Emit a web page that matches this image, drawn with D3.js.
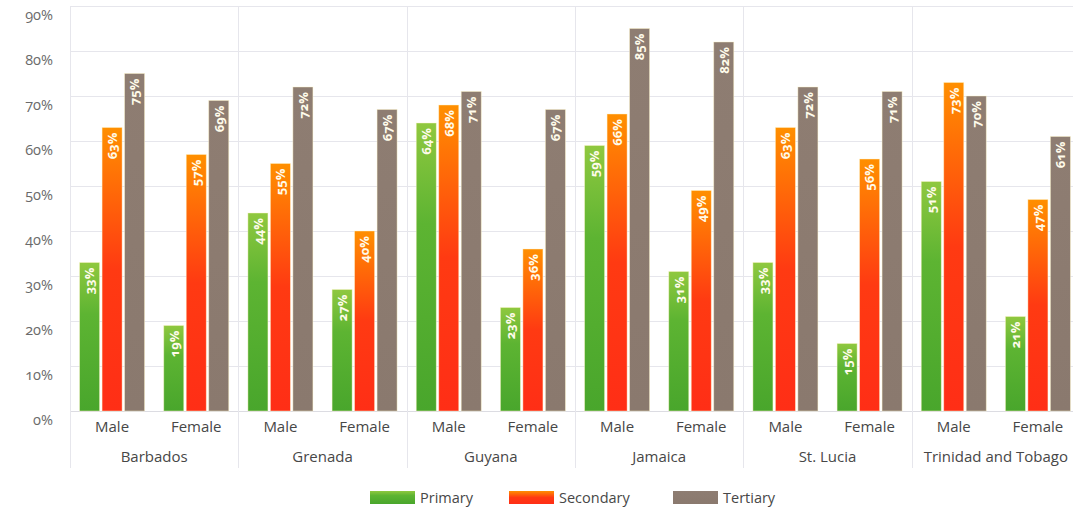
<!DOCTYPE html>
<html>
<head>
<meta charset="utf-8">
<script src="https://cdn.jsdelivr.net/npm/d3@7.8.5/dist/d3.min.js"></script>
<style>
  html, body { margin: 0; padding: 0; background: #fff; }
  svg { display: block; font-family: "Open Sans", sans-serif; }
  .num { font-variant-numeric: oldstyle-nums; }
</style>
</head>
<body>
<div id="chart"></div>
<script>
const countries = ["Barbados", "Grenada", "Guyana", "Jamaica", "St. Lucia", "Trinidad and Tobago"];
const genders = ["Male", "Female"];
const levels = ["Primary", "Secondary", "Tertiary"];

// values per country, Male then Female
const primary = [33, 19, 44, 27, 64, 23, 59, 31, 33, 15, 51, 21];
const secondary = [63, 57, 55, 40, 68, 36, 66, 49, 63, 56, 73, 47];
const tertiary = [75, 69, 72, 67, 71, 67, 85, 82, 72, 71, 70, 61];

const yTicks = [0, 10, 20, 30, 40, 50, 60, 70, 80, 90];

const width = 1073;
const height = 515;
const margin = { top: 6, left: 70, plotRight: 1080, bottom: 411 };

const rows = [];
countries.forEach((c, ci) => {
  genders.forEach((g, gi) => {
    const i = ci * 2 + gi;
    rows.push({ country: c, gender: g, Primary: primary[i], Secondary: secondary[i], Tertiary: tertiary[i] });
  });
});

const svg = d3.select("#chart")
  .append("svg")
  .attr("width", width)
  .attr("height", height);

// gradients
const defs = svg.append("defs");
const grads = {
  Primary: [["0%", "#8fc83f"], ["35%", "#5db432"], ["100%", "#49a62c"]],
  Secondary: [["0%", "#ff8f00"], ["50%", "#ff3a12"], ["100%", "#ff2e16"]],
  Tertiary: [["0%", "#8e7d72"], ["100%", "#8a796e"]],
};
Object.entries(grads).forEach(([key, stops]) => {
  const lg = defs.append("linearGradient")
    .attr("id", "grad-" + key)
    .attr("x1", 0).attr("y1", 0).attr("x2", 0).attr("y2", 1);
  stops.forEach(([o, c]) => lg.append("stop").attr("offset", o).attr("stop-color", c));
});

const x0 = d3.scaleBand()
  .domain(countries)
  .range([margin.left, margin.plotRight])
  .padding(0);

const x1 = d3.scaleBand()
  .domain(genders)
  .range([0, x0.bandwidth()])
  .padding(0);

const groupW = 65;
const x2 = d3.scaleBand()
  .domain(levels)
  .range([(x1.bandwidth() - groupW) / 2, (x1.bandwidth() + groupW) / 2])
  .paddingInner(0.11);

const y = d3.scaleLinear()
  .domain([0, 90])
  .range([margin.bottom, margin.top]);

// horizontal grid
svg.append("g")
  .selectAll("line")
  .data(yTicks)
  .enter()
  .append("line")
  .attr("x1", margin.left)
  .attr("x2", width)
  .attr("y1", (d) => Math.round(y(d)) + 0.5)
  .attr("y2", (d) => Math.round(y(d)) + 0.5)
  .attr("stroke", (d) => (d === 0 ? "#dcdce2" : "#e6e6ec"))
  .attr("stroke-width", 1);

// vertical separators
const seps = countries.map((c) => x0(c)).concat([margin.plotRight]);
svg.append("g")
  .selectAll("line")
  .data(seps)
  .enter()
  .append("line")
  .attr("x1", (d) => Math.round(d) + 0.5)
  .attr("x2", (d) => Math.round(d) + 0.5)
  .attr("y1", margin.top)
  .attr("y2", 468)
  .attr("stroke", "#e6e6ec");

// y labels
svg.append("g")
  .selectAll("text")
  .data(yTicks)
  .enter()
  .append("text")
  .attr("class", "num")
  .attr("x", 53)
  .attr("y", (d) => y(d) + 14)
  .attr("text-anchor", "end")
  .style("font-size", "14.5px")
  .style("fill", "#6a6a6a")
  .text((d) => d + "%");

// bars
const groups = svg.append("g")
  .selectAll("g")
  .data(rows)
  .enter()
  .append("g")
  .attr("transform", (d) => `translate(${x0(d.country) + x1(d.gender)},0)`);

groups.selectAll("rect")
  .data((d) => levels.map((l) => ({ level: l, value: d[l] })))
  .enter()
  .append("rect")
  .attr("x", (d) => x2(d.level))
  .attr("y", (d) => y(d.value))
  .attr("width", x2.bandwidth())
  .attr("height", (d) => y(0) - y(d.value))
  .attr("fill", (d) => `url(#grad-${d.level})`)
  .attr("stroke", "rgba(255,245,200,0.55)")
  .attr("stroke-width", 0.8);

groups.selectAll("text")
  .data((d) => levels.map((l) => ({ level: l, value: d[l] })))
  .enter()
  .append("text")
  .attr("class", "num")
  .attr("transform", (d) => `translate(${x2(d.level) + x2.bandwidth() / 2 + 4.8},${y(d.value) + 5}) rotate(-90)`)
  .attr("text-anchor", "end")
  .style("font-size", "13px")
  .style("font-weight", "bold")
  .style("fill", "#fffbea")
  .text((d) => d.value + "%");

// x labels
groups.append("text")
  .attr("x", x1.bandwidth() / 2)
  .attr("y", 432)
  .attr("text-anchor", "middle")
  .style("font-size", "15px")
  .style("fill", "#474747")
  .text((d) => d.gender);

svg.append("g")
  .selectAll("text")
  .data(countries)
  .enter()
  .append("text")
  .attr("x", (d) => x0(d) + x0.bandwidth() / 2)
  .attr("y", 462)
  .attr("text-anchor", "middle")
  .style("font-size", "15px")
  .style("fill", "#474747")
  .text((d) => d);

// legend
const legendX = [370, 509, 673];
const legend = svg.append("g")
  .selectAll("g")
  .data(levels)
  .enter()
  .append("g")
  .attr("transform", (d, i) => `translate(${legendX[i]}, 491)`);

legend.append("rect")
  .attr("width", 45)
  .attr("height", 13)
  .attr("fill", (d) => `url(#grad-${d})`);

legend.append("text")
  .attr("x", 50)
  .attr("y", 11.5)
  .style("font-size", "14.5px")
  .style("fill", "#474747")
  .text((d) => d);
</script>
</body>
</html>
